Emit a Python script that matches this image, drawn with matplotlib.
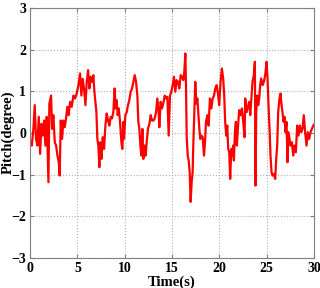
import matplotlib
matplotlib.use("Agg")
import matplotlib.pyplot as plt

time_s = [0.00, 0.18, 0.35, 0.49, 0.63, 0.77, 0.92, 1.06, 1.20, 1.34, 1.48, 1.62, 1.76, 1.94, 2.04,
          2.22, 2.32, 2.46, 2.61, 2.75, 2.89, 3.03, 3.13, 3.24, 3.38, 3.52, 3.66, 3.80, 3.94, 4.08,
          4.23, 4.40, 4.58, 4.75, 4.93, 5.11, 5.28, 5.42, 5.56, 5.70, 5.85, 5.99, 6.13, 6.27, 6.41,
          6.55, 6.69, 6.80, 6.90, 7.01, 7.11, 7.22, 7.32, 7.43, 7.54, 7.68, 7.82, 7.96, 8.10, 8.24,
          8.38, 8.52, 8.66, 8.80, 8.94, 9.05, 9.15, 9.26, 9.37, 9.51, 9.65, 9.75, 9.86,
          9.93, 10.07, 10.21, 10.35, 10.49, 10.63, 10.78, 10.92, 11.06, 11.20, 11.34, 11.44, 11.55,
          11.66, 11.76, 11.87, 11.97, 12.11, 12.22, 12.32, 12.46, 12.61, 12.75, 12.89, 13.03, 13.17,
          13.31, 13.45, 13.59, 13.66, 13.80, 13.94, 14.08, 14.23, 14.37, 14.51, 14.65, 14.79, 14.93,
          15.07, 15.21, 15.35, 15.49, 15.63, 15.77, 15.92, 16.06, 16.20, 16.30, 16.41, 16.48, 16.55,
          16.66, 16.76, 16.87, 16.97, 17.08, 17.18, 17.25, 17.36, 17.46, 17.57, 17.68, 17.78, 17.89,
          17.99, 18.10, 18.24, 18.38, 18.49, 18.59, 18.73, 18.87, 19.01, 19.16, 19.30, 19.44, 19.58,
          19.72, 19.86,
          19.99, 20.13, 20.27, 20.41, 20.52, 20.62, 20.73, 20.84, 20.94, 21.05, 21.15, 21.26, 21.36,
          21.47, 21.54, 21.65, 21.75, 21.86, 21.96, 22.10, 22.24, 22.39, 22.53, 22.67, 22.74, 22.88,
          23.02, 23.16, 23.27, 23.37, 23.51, 23.65, 23.76, 23.83, 23.90, 24.00, 24.11, 24.22, 24.32,
          24.43, 24.57, 24.71, 24.85, 24.99, 25.10, 25.20, 25.31, 25.41, 25.52, 25.62, 25.77, 25.91,
          26.01, 26.12, 26.22, 26.36, 26.47, 26.58, 26.68, 26.79, 26.89, 27.00, 27.10, 27.21, 27.31,
          27.42, 27.53, 27.67, 27.81, 27.95, 28.09, 28.23, 28.37, 28.51, 28.65, 28.79, 28.93, 29.07,
          29.22, 29.36, 29.50, 29.64, 29.79, 29.93, 30.00]

pitch_deg = [-0.22, -0.30, 0.10, 0.67, -0.14, -0.30, 0.39, -0.50, 0.22, -0.06, 0.30, -0.30, 0.39, -1.18, 0.71,
             0.90, 0.10, 0.43, -0.22, -0.30, -0.54, -0.70, -1.02, 0.30, -0.14, 0.30, 0.14, 0.35, 0.63, 0.43,
             0.75, 0.63, 0.90, 0.83, 0.95, 1.15, 1.43, 0.90, 1.30, 1.07, 0.67, 1.23, 1.51, 1.07, 1.35,
             1.23, 1.39, 0.99, 0.75, 0.50, -0.14, -0.30, -0.82, -0.22, -0.62, -0.10, -0.38, 0.18, 0.47, 0.30,
             0.18, 0.39, 0.35, 0.50, 1.07, 0.59, 0.79, 0.43, 0.59, 0.27, -0.22, -0.38, 0.27,
             -0.14, 0.43, 0.50, 0.67, 0.79, 0.99, 1.07, 1.23, 1.39, 1.23, 0.90, 0.27, 0.10,
             -0.30, -0.54, 0.10, -0.62, -0.30, -0.54, -0.22, 0.10, 0.22, 0.43, 0.30, 0.30, 0.35,
             0.50, 0.83, 0.50, 0.14, 0.75, 0.59, 0.71, 0.90, 0.83, 0.87, -0.06, 0.90, 0.99,
             1.15, 1.35, 0.99, 1.27, 1.23, 1.07, 1.39, 1.35, 1.27, 1.47, 1.91, 1.15, -0.06,
             -0.54, -0.66, -0.94, -1.65, -1.18, -0.94, -0.30, 0.50, 1.23, 0.71, 0.83, 0.50, 0.10,
             -0.14, -0.06, -0.10, -0.54, -0.22, 0.27, 0.43, 0.18, 0.83, 0.59, 0.83, 0.90, 1.07,
             1.15, 0.95,
             0.67, 1.23, 1.55, 1.31, 0.90, 0.27, -0.06, 0.18, -0.38, -0.46, -1.10, -0.38, -0.54,
             -0.30, -0.66, 0.02, 0.27, -0.30, 0.10, 0.55, 0.43, 0.59, 0.27, -0.10, 0.83, 0.50,
             0.63, 0.75, 0.43, 0.75, 1.23, 1.39, 1.71, -1.26, 0.50, 0.90, 0.67, 0.83, 1.15,
             1.31, 1.15, 1.23, 1.39, 1.71, 1.31, 0.67, 0.10, -0.54, -0.94, -1.02, -0.98, -1.10,
             -0.62, -0.30, 0.50, 0.83, 0.95, 0.67, 0.50, 0.27, 0.39, 0.02, 0.27, -0.70, 0.02,
             -0.14, -0.30, -0.22, -0.54, -0.30, -0.46, 0.18, -0.06, 0.18, 0.02, 0.10, 0.43, 0.02,
             -0.30, 0.02, -0.14, 0.02, 0.10, 0.18, 0.20]

x_ticks = [0, 5, 10, 15, 20, 25, 30]
y_ticks = [-3, -2, -1, 0, 1, 2, 3]
x_label = "Time(s)"
y_label = "Pitch(degree)"

plt.rcParams['font.family'] = ['Liberation Serif', 'DejaVu Serif']

fig = plt.figure(figsize=(3.2, 2.88), dpi=100)
ax = fig.add_axes([0.094, 0.104, 0.887, 0.868])
ax.plot(time_s, pitch_deg, color='#ff0000', linewidth=1.6)
ax.set_xlim(0, 30)
ax.set_ylim(-3, 3)
ax.set_xticks(x_ticks)
ax.set_yticks(y_ticks)
ax.grid(True, linestyle=':', color='#b0b0b0', linewidth=0.8)
for s in ax.spines.values():
    s.set_color('#808080')
    s.set_linewidth(0.8)
ax.tick_params(direction='in', length=3, color='#808080', labelsize=10, pad=3,
               top=True, right=True)
for lbl in ax.get_xticklabels() + ax.get_yticklabels():
    lbl.set_fontweight('bold')
ax.set_xlabel(x_label, fontsize=10.5, fontweight='bold', labelpad=0)
fig.text(0.025, 0.54, y_label, rotation=90, ha='center', va='center',
         fontsize=10.5, fontweight='bold')

fig.savefig("out.png", dpi=100)
